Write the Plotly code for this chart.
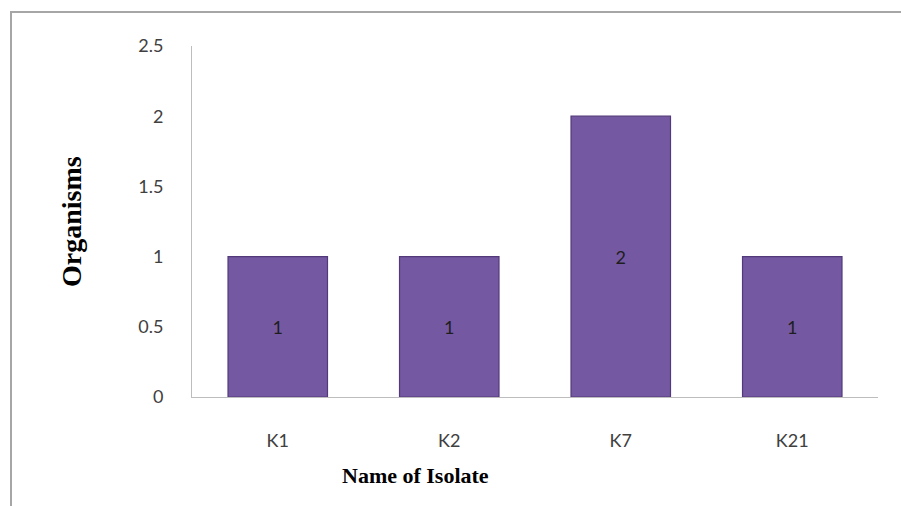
import plotly.graph_objects as go

# Isolate names and organism counts
isolates = ["K1", "K2", "K7", "K21"]
organisms = [1, 1, 2, 1]
y_ticks = [0, 0.5, 1, 1.5, 2, 2.5]
y_tick_labels = ["0", "0.5", "1", "1.5", "2", "2.5"]

W, H = 901, 506
L, R, T, B = 192, 23, 46, 109
pw, ph = W - L - R, H - T - B


def px_x(x):
    return (x - L) / pw


def px_y(y):
    return (H - B - y) / ph


tick_font = dict(family="Lato, Carlito, sans-serif", size=18, color="#404040")

fig = go.Figure(
    go.Bar(
        x=isolates,
        y=organisms,
        text=[str(v) for v in organisms],
        textposition="inside",
        insidetextanchor="middle",
        textangle=0,
        textfont=dict(family="Lato, Carlito, sans-serif", size=18, color="#1e1e1e"),
        marker=dict(color="#7558a2", line=dict(color="#52397a", width=1.2)),
        width=0.58,
        hoverinfo="skip",
    )
)

fig.update_layout(
    width=W,
    height=H,
    margin=dict(l=L, r=R, t=T, b=B),
    paper_bgcolor="white",
    plot_bgcolor="white",
    showlegend=False,
    xaxis=dict(
        showgrid=False,
        showline=True,
        linecolor="#bdbdbd",
        linewidth=1,
        ticks="",
        ticklabelstandoff=27,
        tickfont=tick_font,
    ),
    yaxis=dict(
        range=[0, 2.5],
        tickvals=y_ticks,
        ticktext=y_tick_labels,
        showgrid=False,
        zeroline=False,
        showline=True,
        linecolor="#bdbdbd",
        linewidth=1,
        ticks="",
        ticklabelstandoff=24,
        tickfont=tick_font,
    ),
    annotations=[
        dict(
            text="<b>Name of Isolate</b>",
            xref="paper", yref="paper",
            x=px_x(415), y=px_y(475),
            xanchor="center", yanchor="middle",
            showarrow=False,
            font=dict(family="Liberation Serif, Times New Roman, serif", size=22, color="#000000"),
        ),
        dict(
            text="<b>Organisms</b>",
            xref="paper", yref="paper",
            x=px_x(72), y=px_y(222),
            xanchor="center", yanchor="middle",
            textangle=-90,
            showarrow=False,
            font=dict(family="Liberation Serif, Times New Roman, serif", size=28, color="#000000"),
        ),
    ],
    shapes=[
        # chart frame: left and top edges
        dict(
            type="path",
            xref="paper", yref="paper",
            path=f"M {px_x(11)} {px_y(510)} L {px_x(11)} {px_y(12)} L {px_x(905)} {px_y(12)}",
            line=dict(color="#a6a6a6", width=2),
            layer="above",
        )
    ],
)

fig.write_html("out.html")
